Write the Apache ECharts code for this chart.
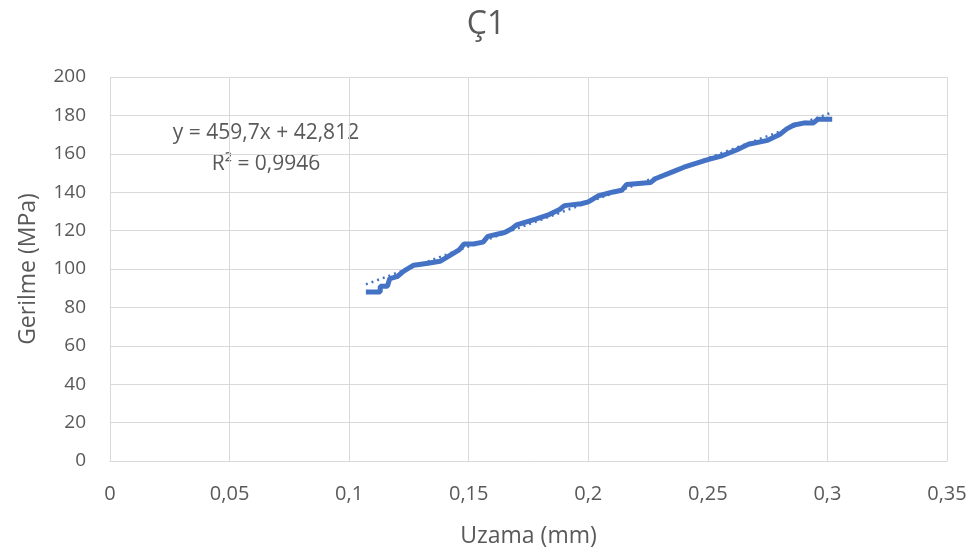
<!DOCTYPE html>
<html>
<head>
<meta charset="utf-8">
<script src="https://cdn.jsdelivr.net/npm/echarts@6/dist/echarts.min.js"></script>
<style>
    html, body { margin: 0; padding: 0; background: #fff; }
    #chart { width: 972px; height: 553px; }
</style>
</head>
<body>
<div id="chart"></div>
<script>
    // measured curve (Uzama mm, Gerilme MPa)
    var uzama = [0.107, 0.113, 0.113, 0.116, 0.117, 0.120, 0.123, 0.127, 0.133, 0.138, 0.142, 0.146, 0.148, 0.152, 0.156,
        0.158, 0.165, 0.168, 0.170, 0.178, 0.183, 0.188, 0.190, 0.197, 0.200, 0.204, 0.210, 0.214, 0.216, 0.226,
        0.228, 0.236, 0.240, 0.245, 0.250, 0.256, 0.262, 0.267, 0.275, 0.280, 0.283, 0.286, 0.290, 0.294, 0.296, 0.302];
    var gerilme = [88, 88, 91, 91, 95, 96, 99, 102, 103, 104, 107, 110, 113, 113, 114,
        117, 119, 121, 123, 126, 128, 131, 133, 134, 135, 138, 140, 141, 144, 145,
        147, 151, 153, 155, 157, 159, 162, 165, 167, 170, 173, 175, 176, 176, 178, 178];
    // linear trend: y = 459,7x + 42,812
    var trendSlope = 459.7;
    var trendIntercept = 42.812;
    var trendX = [0.107, 0.302];
    var eqLines = ['y = 459,7x + 42,812', 'R² = 0,9946'];

    var chart = echarts.init(document.getElementById('chart'));
    var txt = '#595959';
    var fontFam = '"Open Sans", "Liberation Sans", sans-serif';

    var curve = uzama.map(function (x, i) { return [x, gerilme[i]]; });
    var trend = trendX.map(function (x) { return [x, trendSlope * x + trendIntercept]; });

    chart.setOption({
        animation: false,
        title: {
            text: 'Ç1',
            left: 'center',
            top: 4,
            textStyle: { color: txt, fontSize: 32, fontWeight: 'normal', fontFamily: fontFam }
        },
        grid: { left: 110, right: 25, top: 77, bottom: 92, outerBoundsMode: 'none', containLabel: false },
        xAxis: {
            type: 'value',
            min: 0, max: 0.35, interval: 0.05,
            name: 'Uzama (mm)',
            nameLocation: 'middle',
            nameGap: 64,
            nameTextStyle: { color: txt, fontSize: 23, fontFamily: fontFam },
            axisLine: { show: true, lineStyle: { color: '#d9d9d9', width: 1 } },
            axisTick: { show: false },
            axisLabel: {
                color: txt, fontSize: 20, fontFamily: fontFam, margin: 23,
                formatter: function (v) { return String(+v.toFixed(2)).replace('.', ','); }
            },
            splitLine: { show: true, lineStyle: { color: '#d9d9d9', width: 1 } }
        },
        yAxis: {
            type: 'value',
            min: 0, max: 200, interval: 20,
            name: 'Gerilme (MPa)',
            nameLocation: 'middle',
            nameGap: 70,
            nameTextStyle: { color: txt, fontSize: 23, fontFamily: fontFam },
            axisLine: { show: false },
            axisTick: { show: false },
            axisLabel: { color: txt, fontSize: 19, fontFamily: fontFam, margin: 24 },
            splitLine: { show: true, lineStyle: { color: '#d9d9d9', width: 1 } }
        },
        graphic: [{
            type: 'text',
            x: 266, y: 133,
            style: { text: eqLines[0], fill: txt, font: '21px ' + fontFam, align: 'center', verticalAlign: 'middle' }
        }, {
            type: 'text',
            x: 266, y: 164,
            style: { text: eqLines[1], fill: txt, font: '21px ' + fontFam, align: 'center', verticalAlign: 'middle' }
        }],
        series: [{
            name: 'Ç1',
            type: 'line',
            data: curve,
            symbol: 'none',
            lineStyle: { color: '#4472C4', width: 5 },
            z: 3
        }, {
            name: 'trend',
            type: 'line',
            data: trend,
            symbol: 'none',
            lineStyle: { color: '#4472C4', width: 2.5, type: [2, 4] },
            z: 4
        }]
    });
</script>
</body>
</html>
